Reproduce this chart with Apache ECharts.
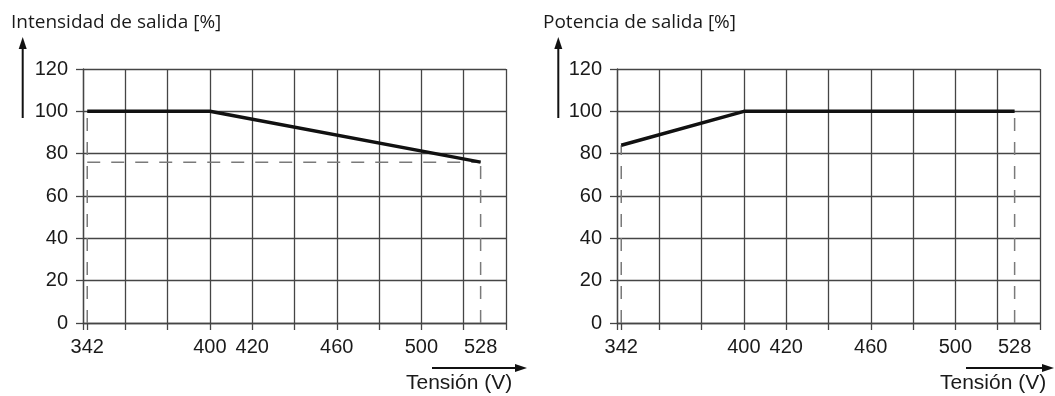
<!DOCTYPE html>
<html>
<head>
<meta charset="utf-8">
<script src="https://cdn.jsdelivr.net/npm/echarts@6/dist/echarts.min.js"></script>
<style>
  html, body { margin: 0; padding: 0; background: #fff; }
  #chart { width: 1055px; height: 396px; }
</style>
</head>
<body>
<div id="chart"></div>
<script>
// ---- data ----
const leftTitle = 'Intensidad de salida [%]';
const rightTitle = 'Potencia de salida [%]';
const xName = 'Tensión (V)';
const xLabelValues = [342, 400, 420, 460, 500, 528];
const xExtraTicks = [342];
const currentVoltage = [342, 400, 528];
const currentPct = [100, 100, 76];
const powerVoltage = [342, 400, 528];
const powerPct = [84, 100, 100];

// ---- styles ----
const GRID_COLOR = '#454545';
const DASH_COLOR = '#7a7a7a';
const LABEL_FONT = '"Liberation Sans", Arial, sans-serif';
const TITLE_FONT = '"Open Sans", sans-serif';

function pairs(xs, ys) { return xs.map((x, i) => [x, ys[i]]); }

function guideSeries(xs, ys, gi, horizontal) {
  const n = xs.length;
  const out = [];
  const segs = [
    [[xs[0], 0], [xs[0], ys[0]]],
    [[xs[n - 1], 0], [xs[n - 1], ys[n - 1]]]
  ];
  if (horizontal) segs.push([[xs[0], ys[n - 1]], [xs[n - 1], ys[n - 1]]]);
  segs.forEach(seg => out.push({
    type: 'line', xAxisIndex: gi * 2, yAxisIndex: gi, data: seg,
    symbol: 'none', silent: true, z: 3,
    lineStyle: { color: DASH_COLOR, width: 1.5, type: [13, 11] }
  }));
  return out;
}

const grids = [
  { left: 83, top: 69, width: 423, height: 254 },
  { left: 617, top: 69, width: 423, height: 254 }
];

const xAxes = [];
const yAxes = [];
[0, 1].forEach(gi => {
  xAxes.push({
    type: 'value', gridIndex: gi, position: 'bottom', min: 340, max: 540, interval: 20,
    axisLine: { show: true, onZero: false, lineStyle: { color: GRID_COLOR, width: 1.3 } },
    axisTick: { show: true, inside: false, length: 7, lineStyle: { color: GRID_COLOR, width: 1.3 } },
    splitLine: { show: true, lineStyle: { color: GRID_COLOR, width: 1.3 } },
    axisLabel: {
      show: true, customValues: xLabelValues, margin: 14,
      fontFamily: LABEL_FONT, fontSize: 20, color: '#1a1a1a'
    }
  });
  xAxes.push({
    type: 'value', gridIndex: gi, position: 'bottom', min: 340, max: 540,
    axisLine: { show: false },
    axisTick: { show: true, inside: false, length: 7, customValues: xExtraTicks,
      lineStyle: { color: GRID_COLOR, width: 1.3 } },
    splitLine: { show: false },
    axisLabel: { show: false }
  });
  yAxes.push({
    type: 'value', gridIndex: gi, min: 0, max: 120, interval: 20,
    axisLine: { show: true, onZero: false, lineStyle: { color: GRID_COLOR, width: 1.3 } },
    axisTick: { show: true, inside: false, length: 7, lineStyle: { color: GRID_COLOR, width: 1.3 } },
    splitLine: { show: true, lineStyle: { color: GRID_COLOR, width: 1.3 } },
    axisLabel: { margin: 15, fontFamily: LABEL_FONT, fontSize: 20, color: '#1a1a1a' }
  });
});

const series = [
  ...guideSeries(currentVoltage, currentPct, 0, true),
  ...guideSeries(powerVoltage, powerPct, 1, false),
  {
    type: 'line', xAxisIndex: 0, yAxisIndex: 0, data: pairs(currentVoltage, currentPct),
    symbol: 'none', z: 5, lineStyle: { color: '#111', width: 3.5, cap: 'butt' }
  },
  {
    type: 'line', xAxisIndex: 2, yAxisIndex: 1, data: pairs(powerVoltage, powerPct),
    symbol: 'none', z: 5, lineStyle: { color: '#111', width: 3.5, cap: 'butt' }
  }
];

function vArrow(x, yBottom, yTip) {
  return [
    { type: 'line', shape: { x1: x, y1: yBottom, x2: x, y2: yTip + 10 }, style: { stroke: '#111', lineWidth: 2 } },
    { type: 'polygon', shape: { points: [[x - 4, yTip + 12], [x + 4, yTip + 12], [x, yTip]] }, style: { fill: '#111' } }
  ];
}
function hArrow(xStart, xTip, y) {
  return [
    { type: 'line', shape: { x1: xStart, y1: y, x2: xTip - 10, y2: y }, style: { stroke: '#111', lineWidth: 2 } },
    { type: 'polygon', shape: { points: [[xTip - 12, y - 4], [xTip - 12, y + 4], [xTip, y]] }, style: { fill: '#111' } }
  ];
}

const textStyleT = { fontFamily: TITLE_FONT, fontSize: 19, fontWeight: 'normal', color: '#1a1a1a' };

const option = {
  animation: false,
  backgroundColor: '#ffffff',
  title: [
    { text: leftTitle, left: 11, top: 13, padding: 0, textStyle: textStyleT },
    { text: rightTitle, left: 543, top: 13, padding: 0, textStyle: textStyleT }
  ],
  grid: grids,
  xAxis: xAxes,
  yAxis: yAxes,
  series: series,
  graphic: [
    ...vArrow(22.7, 118, 37),
    ...vArrow(558.3, 118, 37),
    ...hArrow(432, 527, 368),
    ...hArrow(966, 1054, 368),
    { type: 'text', left: 406, top: 373, style: { text: xName, font: '21px "Liberation Sans", Arial, sans-serif', fill: '#1a1a1a' } },
    { type: 'text', left: 940, top: 373, style: { text: xName, font: '21px "Liberation Sans", Arial, sans-serif', fill: '#1a1a1a' } }
  ]
};

const chart = echarts.init(document.getElementById('chart'), null, { renderer: 'canvas' });
chart.setOption(option);
</script>
</body>
</html>
